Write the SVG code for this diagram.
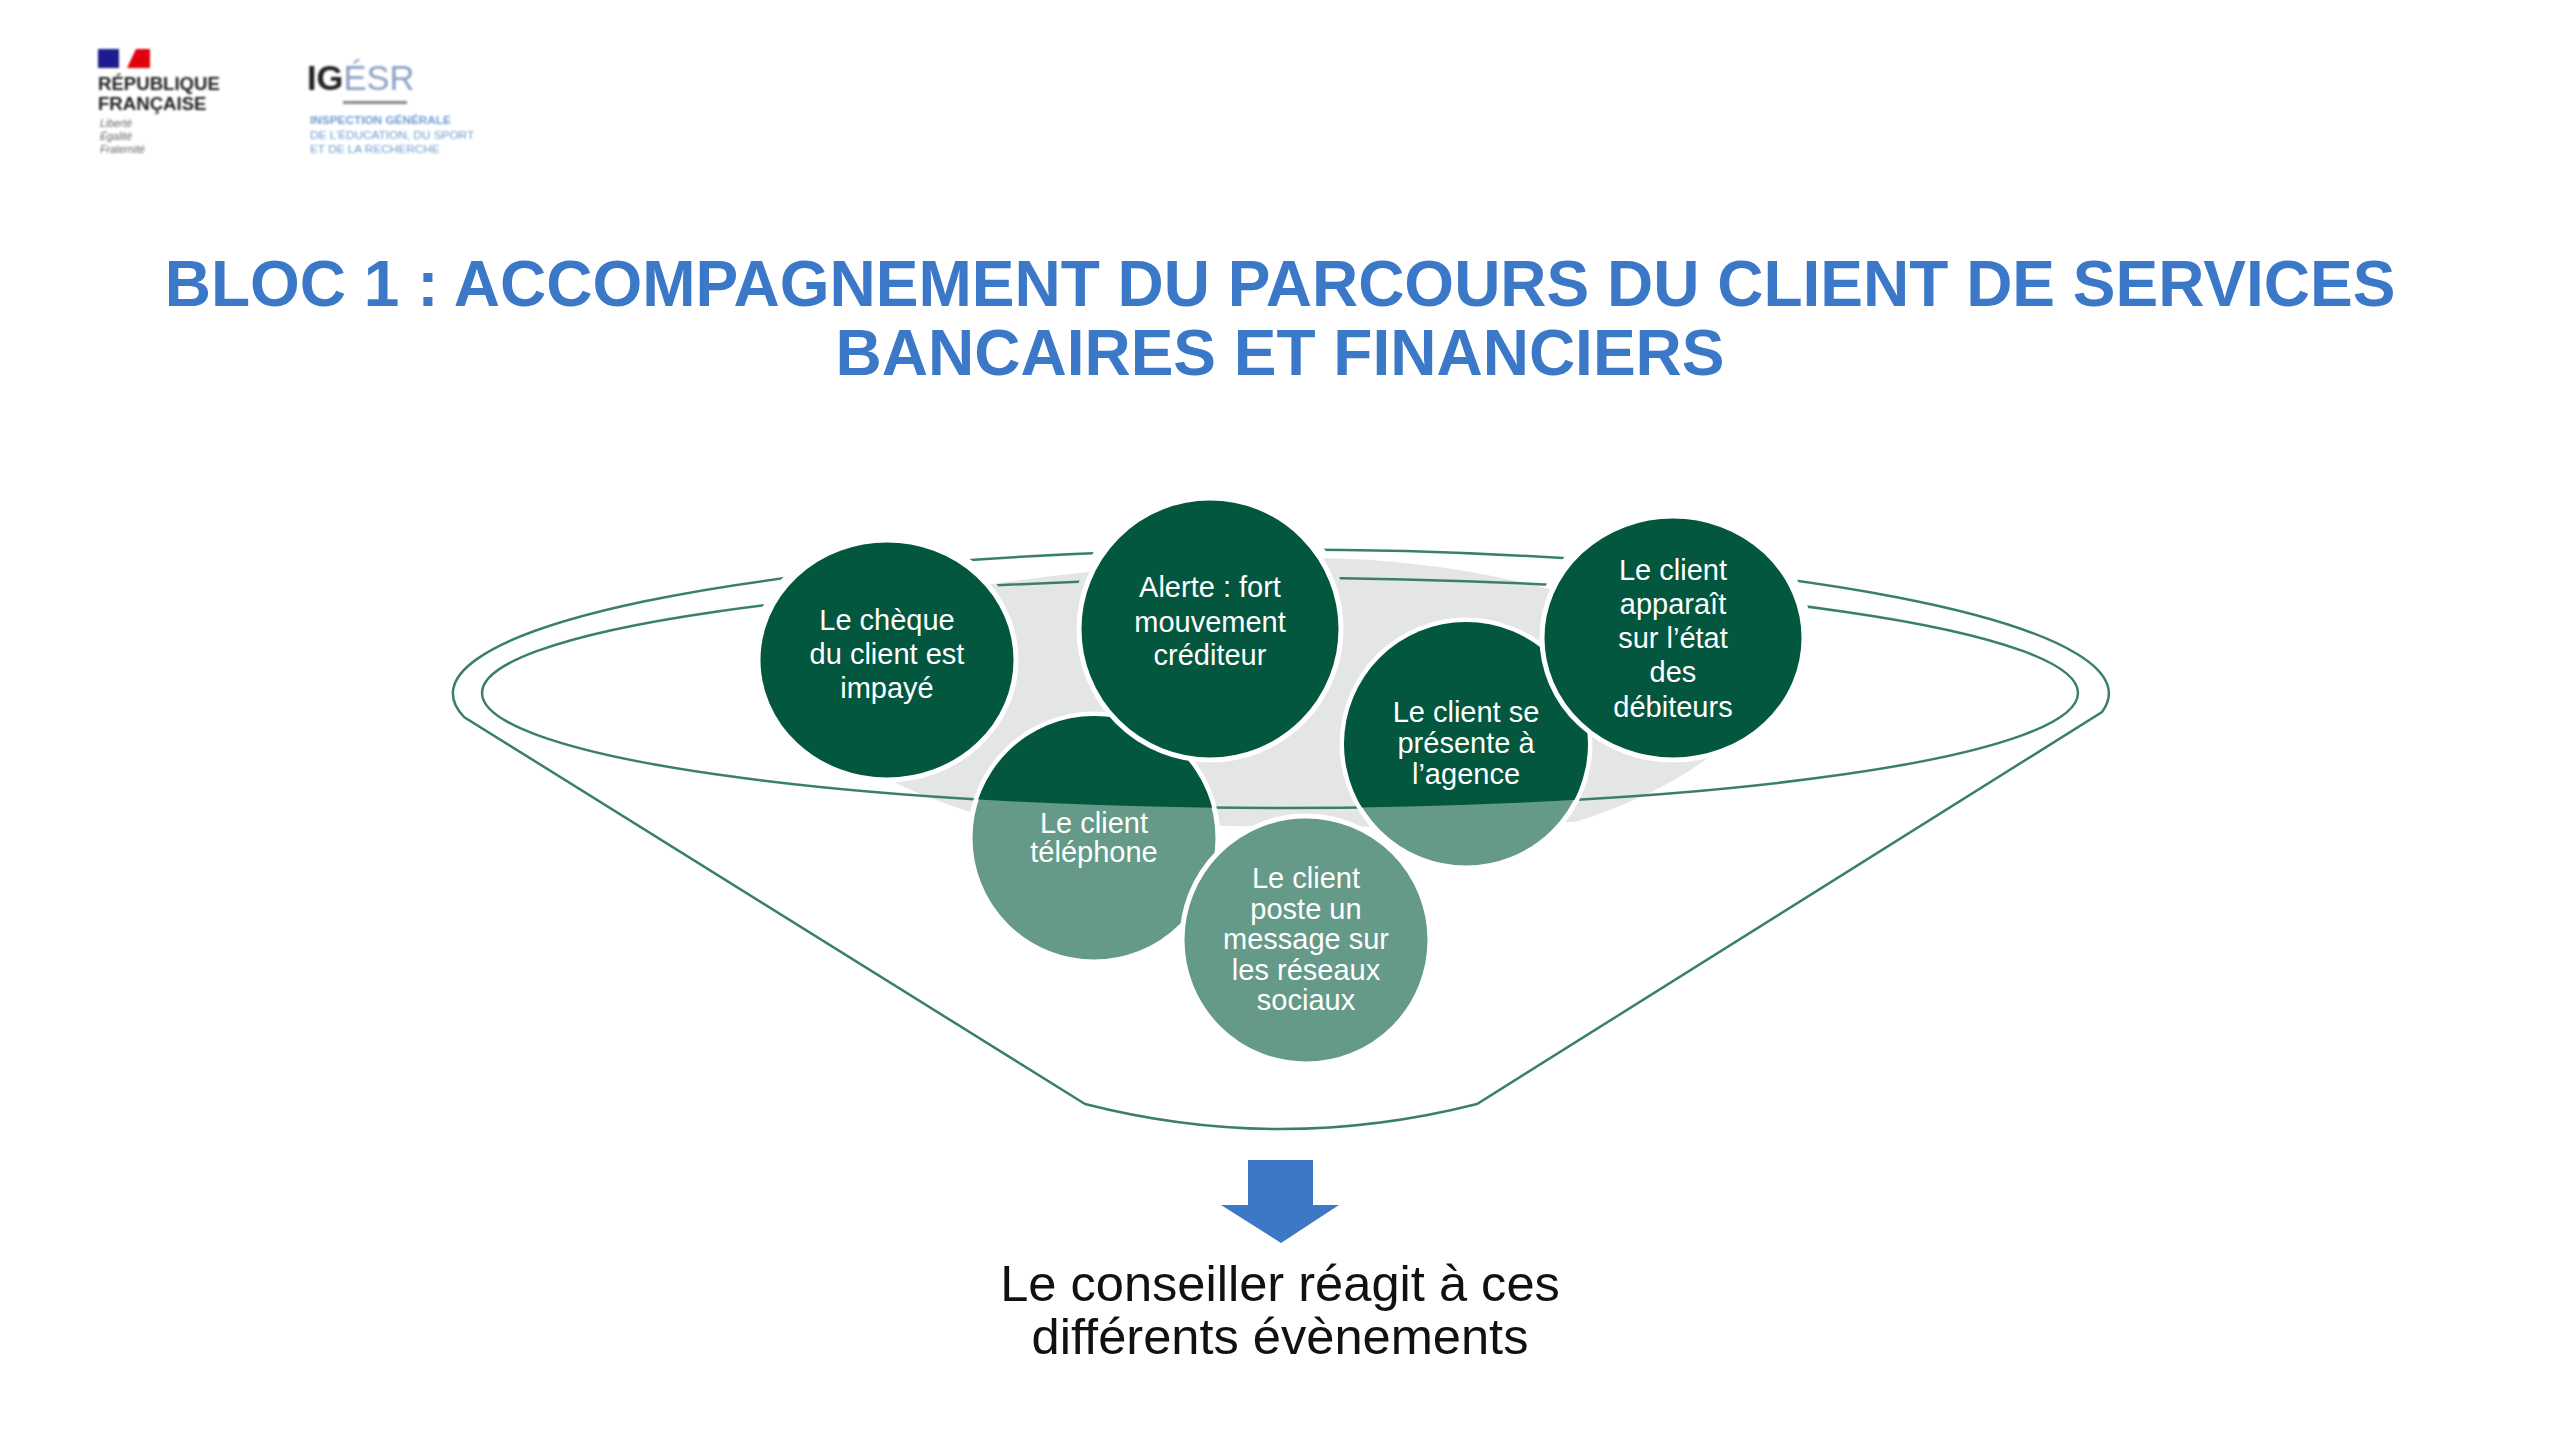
<svg xmlns="http://www.w3.org/2000/svg" width="2560" height="1440" viewBox="0 0 2560 1440">
<style>
text{font-family:"Liberation Sans",Arial,sans-serif}
.title{font-size:64px;font-weight:700;fill:#3c78c8;text-anchor:middle}
.n{font-size:29px;fill:#fff;text-anchor:middle}
.rim{fill:none;stroke:#3a8069;stroke-width:2.5}
.dark{fill:#04573f}
.light{fill:#659a89}
.halo{stroke:#fff;stroke-width:5}
.foot{font-size:50.6px;fill:#111;text-anchor:middle}
</style>
<defs>
<clipPath id="inside"><ellipse cx="1280" cy="693" rx="798" ry="115"/></clipPath>
<mask id="gaps" maskUnits="userSpaceOnUse" x="0" y="0" width="2560" height="1440">
<rect width="2560" height="1440" fill="#fff"/>
<ellipse cx="887" cy="660" rx="137" ry="127" fill="#000"/>
<ellipse cx="1210" cy="628" rx="139" ry="139" fill="#000"/>
<ellipse cx="1673" cy="638" rx="139" ry="130" fill="#000"/>
</mask>
<filter id="soft" x="-5%" y="-5%" width="110%" height="110%"><feGaussianBlur stdDeviation="0.8"/></filter>
</defs>
<rect width="2560" height="1440" fill="#fff"/>
<g id="logo-republique" filter="url(#soft)">
<rect x="98" y="49" width="21" height="19" fill="#1b1b8f"/>
<path d="M127 68 L136 49 H150 V68 Z" fill="#e1000f"/>
<text x="98" y="90" font-size="18.6" font-weight="700" fill="#222">RÉPUBLIQUE</text>
<text x="98" y="110" font-size="18.6" font-weight="700" fill="#222">FRANÇAISE</text>
<g font-size="10.5" font-style="italic" fill="#666">
<text x="100" y="127">Liberté</text>
<text x="100" y="140">Égalité</text>
<text x="100" y="153">Fraternité</text>
</g>
</g>
<g id="logo-igesr" filter="url(#soft)">
<text x="307" y="90" font-size="34.5" font-weight="700" fill="#222">IG<tspan font-weight="400" fill="#8aa0c4">ÉSR</tspan></text>
<rect x="343" y="101" width="64" height="3" fill="#888"/>
<g font-size="11.8" fill="#6f9bd0">
<text x="310" y="124" font-weight="700">INSPECTION GÉNÉRALE</text>
<text x="310" y="139">DE L’ÉDUCATION, DU SPORT</text>
<text x="310" y="153">ET DE LA RECHERCHE</text>
</g>
</g>
<text class="title" x="1280" y="305.5">BLOC 1 : ACCOMPAGNEMENT DU PARCOURS DU CLIENT DE SERVICES</text>
<text class="title" x="1280" y="374.5">BANCAIRES ET FINANCIERS</text>
<path id="bowl-shade" d="M885 778 Q930 800 980 815 Q1280 835 1575 822 Q1660 795 1712 755 L1700 640 Q1500 556 1300 558 Q1150 560 950 590 L840 700 Z" fill="#e3e6e5"/>
<g id="connectors">
<g mask="url(#gaps)">
<path class="rim" d="M1085 1104 L464 717 A828 144 0 1 1 2102 712 L1477 1104 Q1280 1154 1085 1104 Z"/>
<ellipse class="rim" cx="1280" cy="693" rx="798" ry="115"/>
</g>
</g>
<g id="node-telephone">
<ellipse class="light halo" cx="1094" cy="838" rx="124" ry="124"/>
<ellipse class="dark" cx="1094" cy="838" rx="122" ry="122" clip-path="url(#inside)"/>
<text class="n" x="1094" y="833">Le client</text>
<text class="n" x="1094" y="862">téléphone</text>
</g>
<g id="node-agence">
<ellipse class="light halo" cx="1466" cy="744" rx="124" ry="124"/>
<ellipse class="dark" cx="1466" cy="744" rx="122" ry="122" clip-path="url(#inside)"/>
<text class="n" x="1466" y="722">Le client se</text>
<text class="n" x="1466" y="753">présente à</text>
<text class="n" x="1466" y="784">l’agence</text>
</g>
<g id="node-reseaux">
<ellipse class="light halo" cx="1306" cy="940" rx="124" ry="124"/>
<text class="n" x="1306" y="888">Le client</text>
<text class="n" x="1306" y="919">poste un</text>
<text class="n" x="1306" y="949">message sur</text>
<text class="n" x="1306" y="980">les réseaux</text>
<text class="n" x="1306" y="1010">sociaux</text>
</g>
<g id="node-cheque">
<ellipse class="dark halo" cx="887" cy="660" rx="129" ry="120"/>
<text class="n" x="887" y="630">Le chèque</text>
<text class="n" x="887" y="664">du client est</text>
<text class="n" x="887" y="698">impayé</text>
</g>
<g id="node-alerte">
<ellipse class="dark halo" cx="1210" cy="629" rx="131" ry="131"/>
<text class="n" x="1210" y="597">Alerte : fort</text>
<text class="n" x="1210" y="632">mouvement</text>
<text class="n" x="1210" y="665">créditeur</text>
</g>
<g id="node-debiteurs">
<ellipse class="dark halo" cx="1673" cy="638" rx="131" ry="122"/>
<text class="n" x="1673" y="580">Le client</text>
<text class="n" x="1673" y="614">apparaît</text>
<text class="n" x="1673" y="648">sur l’état</text>
<text class="n" x="1673" y="682">des</text>
<text class="n" x="1673" y="717">débiteurs</text>
</g>
<path id="arrow" d="M1248 1160 H1313 V1205 H1339 L1281 1243 L1221 1205 H1248 Z" fill="#3d78c6"/>
<text class="foot" x="1280" y="1301">Le conseiller réagit à ces</text>
<text class="foot" x="1280" y="1354">différents évènements</text>
</svg>
